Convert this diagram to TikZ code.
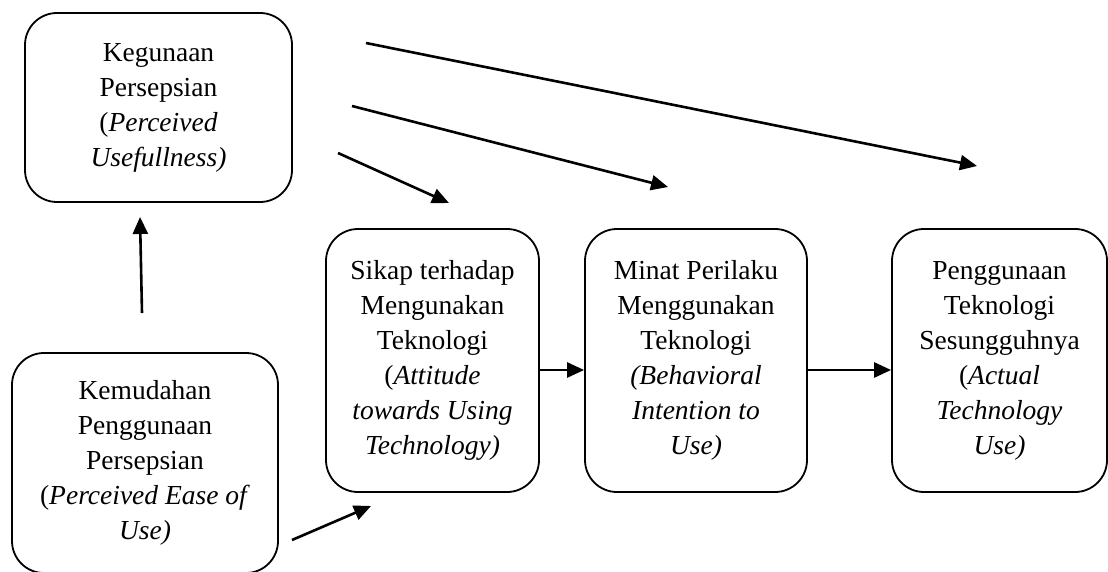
\documentclass[tikz,border=0pt]{standalone}
\usepackage{fontspec}
\setmainfont{Liberation Serif}
\usetikzlibrary{arrows.meta}
\tikzset{
  box/.style={draw, line width=1.8pt, rounded corners=32pt, inner sep=0pt, align=center,
    font=\fontsize{27.5}{35}\selectfont},
  conn/.style={line width=2.6pt, -{Triangle[length=17pt,width=15pt]}}
}
\begin{document}
\begin{tikzpicture}[x=1pt,y=-1pt]
\useasboundingbox (0,0) rectangle (1108,572);
\node[box, minimum width=267pt, minimum height=189pt] (pu) at (158.5,107.5)
  {Kegunaan\\Persepsian\\(\textit{Perceived}\\\textit{Usefullness)}};
\node[box, minimum width=266pt, minimum height=220pt] (peou) at (145,463)
  {Kemudahan\\Penggunaan\\Persepsian\\(\textit{Perceived Ease of}\\\textit{Use)}};
\node[box, minimum width=213pt, minimum height=263pt] (att) at (432.5,360.5)
  {Sikap terhadap\\Mengunakan\\Teknologi\\(\textit{Attitude}\\\textit{towards Using}\\\textit{Technology)}};
\node[box, minimum width=222pt, minimum height=263pt] (bi) at (696,360.5)
  {Minat Perilaku\\Menggunakan\\Teknologi\\\textit{(Behavioral}\\\textit{Intention to}\\\textit{Use)}};
\node[box, minimum width=215pt, minimum height=263pt] (use) at (999.5,360.5)
  {Penggunaan\\Teknologi\\Sesungguhnya\\(\textit{Actual}\\\textit{Technology}\\\textit{Use)}};
\coordinate (a1s) at (338,153); \coordinate (a1e) at (449,203);
\coordinate (a2s) at (352,106); \coordinate (a2e) at (668,187);
\coordinate (a3s) at (366,43);  \coordinate (a3e) at (977,166);
\coordinate (vs) at (142,313);  \coordinate (ve) at (140,217);
\coordinate (es) at (292,540);  \coordinate (ee) at (371,506);
\draw[conn] (a1s) -- (a1e);
\draw[conn] (a2s) -- (a2e);
\draw[conn] (a3s) -- (a3e);
\draw[conn] (vs) -- (ve);
\draw[conn] (es) -- (ee);
\draw[conn] ([yshift=-9.5pt]att.east) -- ([yshift=-9.5pt]bi.west);
\draw[conn] ([yshift=-9.5pt]bi.east) -- ([yshift=-9.5pt]use.west);
\end{tikzpicture}
\end{document}
